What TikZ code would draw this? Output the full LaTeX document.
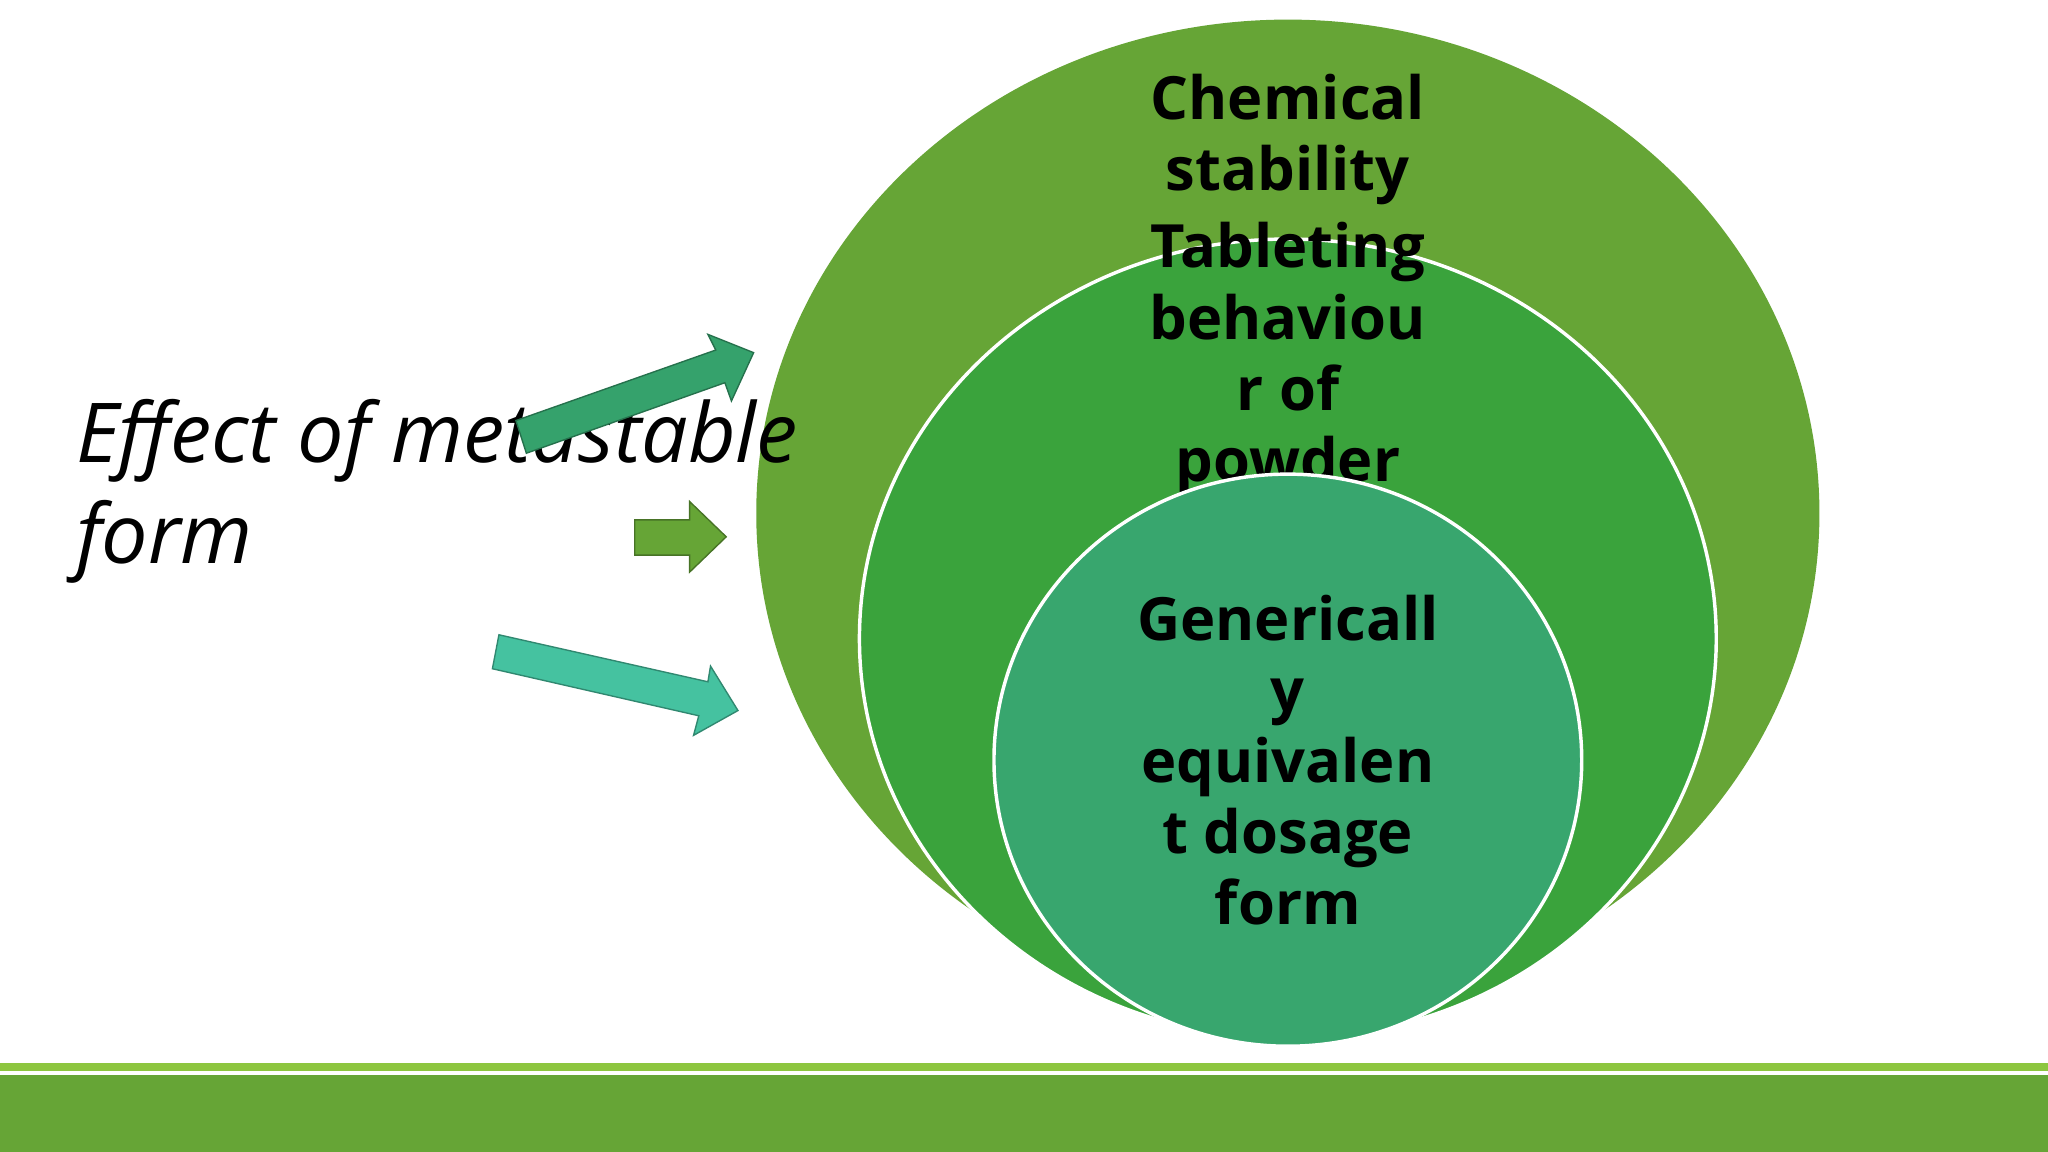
\documentclass[tikz,border=0pt]{standalone}
\usepackage{fontspec}
\setmainfont{Open Sans}
\definecolor{outerg}{HTML}{66A536}
\definecolor{midg}{HTML}{3AA33C}
\definecolor{inng}{HTML}{38A66E}
\definecolor{lightg}{HTML}{8DC63F}
\definecolor{arr1}{HTML}{35A26C}
\definecolor{arr3}{HTML}{45C2A0}
\begin{document}
\begin{tikzpicture}[x=0.02cm,y=-0.02cm,
  lbl/.style={font=\fontsize{26}{31}\selectfont\bfseries, align=center, text=black}]
\useasboundingbox (0,0) rectangle (1568,882);
\fill[white] (0,0) rectangle (1568,882);
% bottom band
\fill[lightg] (0,814) rectangle (1568,820);
\fill[outerg] (0,823) rectangle (1568,882);
% circles
\fill[outerg] (986,393) ellipse [x radius=407, y radius=378];
\node[lbl] (t1) at (986,107) {Chemical\\stability};
\filldraw[midg, draw=white, line width=1.5pt] (986,489) ellipse [x radius=328, y radius=306];
\node[lbl] (t2) at (986,275) {Tableting\\behaviou\\r of\\powder};
\filldraw[inng, draw=white, line width=1.5pt] (986,582) ellipse [x radius=225, y radius=219];
\node[lbl] (t3) at (986,582) {Genericall\\y\\equivalen\\t dosage\\form};
% left text
\node[anchor=west, font=\fontsize{36}{44}\selectfont\itshape, align=left, text=black] (lt) at (52,376) {Effect of metastable\\form};
% arrows
\filldraw[arr1, draw=arr1!70!black, line width=0.6pt] (395,322) -- (548,268) -- (542,256) -- (577,270) -- (560,307) -- (555,293) -- (403,347) -- cycle;
\filldraw[outerg, draw=outerg!70!black, line width=0.6pt] (486,398) -- (528,398) -- (528,384) -- (556,411) -- (528,438) -- (528,425) -- (486,425) -- cycle;
\filldraw[arr3, draw=arr3!70!black, line width=0.6pt] (382,486) -- (542,522) -- (544,510) -- (565,544) -- (531,563) -- (535,548) -- (377,512) -- cycle;
\end{tikzpicture}
\end{document}
